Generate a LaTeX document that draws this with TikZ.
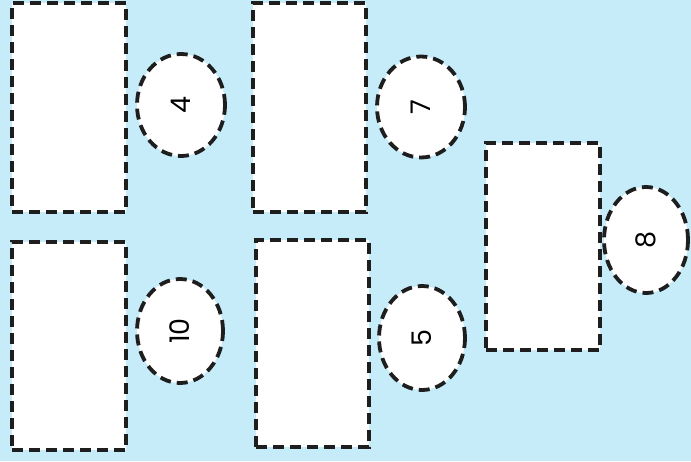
\documentclass[tikz,border=0pt]{standalone}
\usepackage{fontspec}
\setmainfont{Poppins}
\usetikzlibrary{shapes.geometric}
\definecolor{bg}{RGB}{198,236,250}
\definecolor{ink}{RGB}{30,30,30}
\tikzset{
  dashline/.style={draw=ink, line width=3.8pt, dash pattern=on 11pt off 6pt},
  panel/.style={dashline, fill=white, rectangle, inner sep=0pt},
  badge/.style={dashline, fill=white, ellipse, inner sep=0pt, font=\fontsize{27}{27}\selectfont},
}
\begin{document}
\begin{tikzpicture}[x=1pt,y=-1pt]
\fill[bg] (0,0) rectangle (691,461);
\useasboundingbox (0,0) rectangle (691,461);
% panels
\node[panel, minimum width=114pt, minimum height=209pt] (p1) at (69,107.5) {};
\node[panel, minimum width=113pt, minimum height=209pt] (p2) at (309.5,107.5) {};
\node[panel, minimum width=114pt, minimum height=208pt] (p3) at (69,346) {};
\node[panel, minimum width=113pt, minimum height=207pt] (p4) at (312.5,343.5) {};
\node[panel, minimum width=114pt, minimum height=207pt] (p5) at (543,246.5) {};
% badges
\node[badge, minimum width=88pt, minimum height=102pt] (b4) at (181,105) {\rotatebox{90}{4}};
\node[badge, minimum width=88pt, minimum height=101pt] (b7) at (421,107) {\rotatebox{90}{7}};
\node[badge, minimum width=86pt, minimum height=104pt] (b10) at (180,331) {\rotatebox{90}{10}};
\node[badge, minimum width=86pt, minimum height=104pt] (b5) at (422,338) {\rotatebox{90}{5}};
\node[badge, minimum width=84pt, minimum height=106pt] (b8) at (646,240) {\rotatebox{90}{8}};
\end{tikzpicture}
\end{document}
